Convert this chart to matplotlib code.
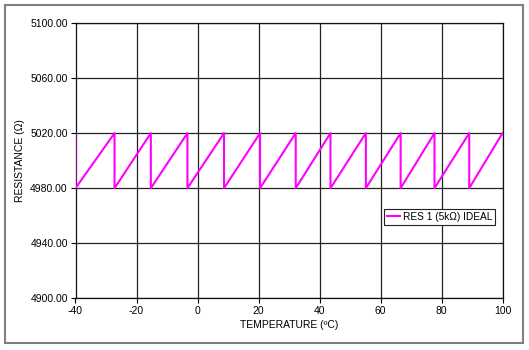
import matplotlib
matplotlib.use("Agg")
import matplotlib.pyplot as plt
from matplotlib.patches import Rectangle

plt.rcParams['font.family'] = ['Liberation Sans', 'DejaVu Sans']
plt.rcParams['axes.unicode_minus'] = False

# sawtooth: value jumps back to 4980 at each reset point
temperature = [-40.0, -40.0, -27.2, -27.2, -15.3, -15.3, -3.3, -3.3, 8.7, 8.7,
               20.5, 20.5, 32.2, 32.2, 43.6, 43.6, 55.2, 55.2, 66.6, 66.6,
               77.7, 77.7, 89.1, 89.1, 100.0]
resistance = [5020, 4980, 5020, 4980, 5020, 4980, 5020, 4980, 5020, 4980,
              5020, 4980, 5020, 4980, 5020, 4980, 5020, 4980, 5020, 4980,
              5020, 4980, 5020, 4980, 5020]
x_ticks = [-40, -20, 0, 20, 40, 60, 80, 100]
y_ticks = [4900, 4940, 4980, 5020, 5060, 5100]

fig = plt.figure(figsize=(5.29, 3.5), dpi=100)
ax = fig.add_axes([75.5 / 529, 1 - 298.3 / 350, 427 / 529, 275.3 / 350])

ax.plot(temperature, resistance, color='#ff00ff', lw=1.5,
        label='RES 1 (5k\u03a9) IDEAL', zorder=3)

ax.set_xlim(-40, 100)
ax.set_ylim(4900, 5100)
ax.set_xticks(x_ticks)
ax.set_yticks(y_ticks)
ax.set_yticklabels([f'{v:.2f}' for v in y_ticks])
ax.grid(True, color='#222222', lw=0.9)
ax.tick_params(direction='out', length=3.5, width=0.8, labelsize=7.5, pad=2)
for s in ax.spines.values():
    s.set_color('#111111')
    s.set_linewidth(0.9)

ax.set_xlabel('TEMPERATURE (\u00baC)', fontsize=7.5, labelpad=3)
ax.set_ylabel('RESISTANCE (\u03a9)', fontsize=7.5, labelpad=4)

leg = ax.legend(loc='lower right', bbox_to_anchor=(0.983, 0.268), fontsize=7.3,
                fancybox=False, framealpha=1, edgecolor='#222222',
                handlelength=1.3, handletextpad=0.35, borderpad=0.25,
                borderaxespad=0)
leg.get_frame().set_linewidth(0.8)

fig.patches.append(Rectangle((4.5 / 529, 7 / 350), 518.5 / 529, 338 / 350,
                             transform=fig.transFigure, fill=False,
                             edgecolor='#808080', lw=1.5))

fig.savefig('out.png', dpi=100)
